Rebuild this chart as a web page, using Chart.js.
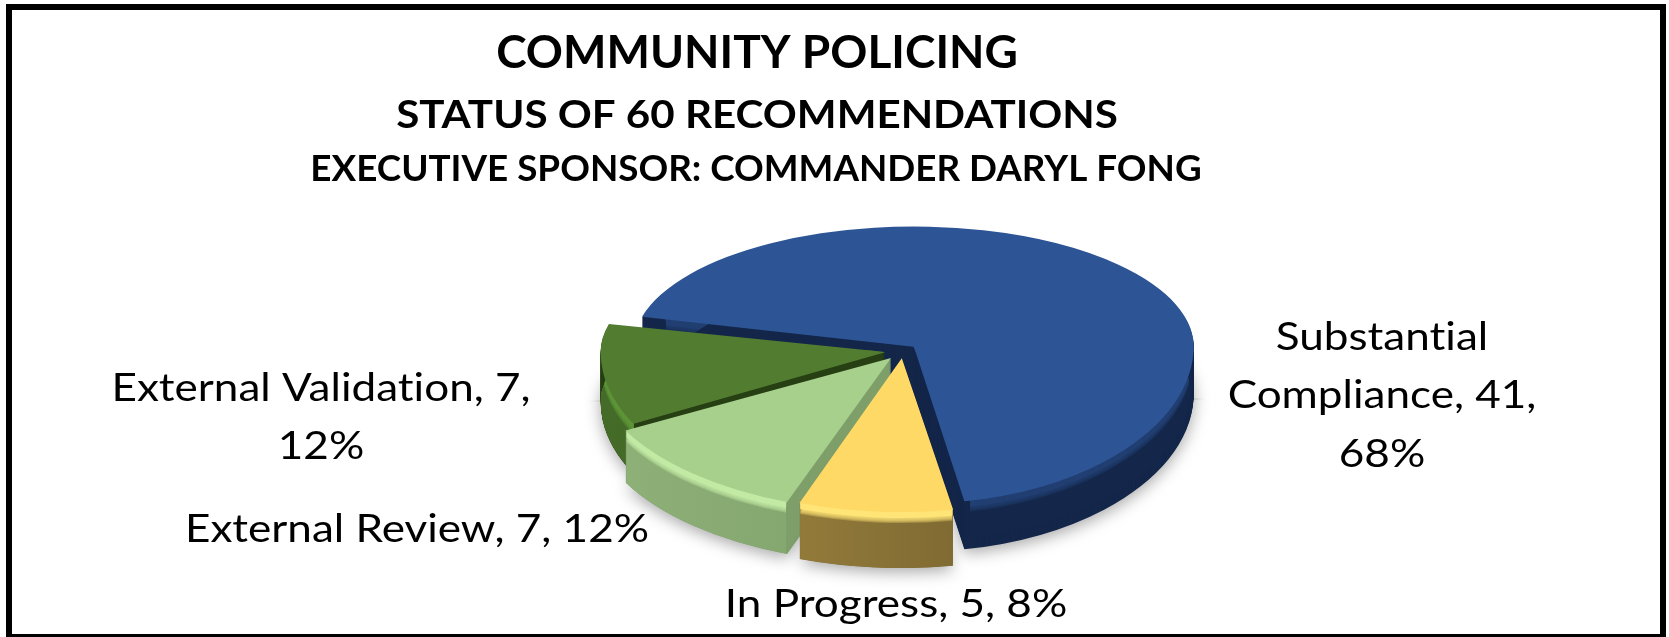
<!DOCTYPE html>
<html>
<head>
<meta charset="utf-8">
<title>Community Policing</title>
<script src="https://cdn.jsdelivr.net/npm/chart.js@4"></script>
<style>
  html, body { margin: 0; padding: 0; background: #fff; }
  canvas { display: block; }
</style>
</head>
<body>
<canvas id="pie" width="1669" height="637"></canvas>
<script>
const titleLines = ['COMMUNITY POLICING', 'STATUS OF 60 RECOMMENDATIONS', 'EXECUTIVE SPONSOR: COMMANDER DARYL FONG'];
const categories = ['Substantial Compliance', 'In Progress', 'External Review', 'External Validation'];
const values = [41, 5, 7, 7];
const percents = [68, 8, 12, 12];

const topColors = ['#2d5596', '#ffd966', '#a8d08d', '#527d31'];
const innerColors = ['#14274a', '#7f6b31', '#7f9f6a', '#274014'];
const wallFrom = ['#14274a', '#a88d42', '#8fb279', '#456b28'];
const wallTo = ['#14274a', '#7f6a32', '#7c9d68', '#3f6224'];
const bevelColors = ['#223f72', '#ffe477', '#c2eaa4', '#5d9438'];
const offsets = [60, 53, 69, 72];

// back to front
const drawOrder = [0, 3, 2, 1];
const depths = [48, 56, 52, 50];
const bevelDepth = 6;

// fake perspective: the back half is squashed more than the front half,
// front slices come out a little wider than the big back slice
const pivotY = 351;
const backScale = 0.41;
const frontScale = 0.54;
const widthScale = [0.955, 1.06, 1.06, 1.0];

const labelLayout = [
  { x: 1382, y: 337, wrap: ['Substantial', 'Compliance, 41,', '68%'] },
  { x: 896, y: 604, wrap: null },
  { x: 417, y: 529, wrap: null },
  { x: 321, y: 388, wrap: ['External Validation, 7,', '12%'] }
];

function project(y, cy) {
  return pivotY + (y - cy) * (y < cy ? backScale : frontScale);
}

function drawArc(ctx, chart, arc, i, dy, color) {
  const saved = arc.options;
  arc.options = { ...saved, backgroundColor: color };
  [[backScale, 0, pivotY], [frontScale, pivotY, chart.height]].forEach(([k, top, bottom]) => {
    ctx.save();
    ctx.beginPath();
    ctx.rect(0, top + dy - 0.5, chart.width, bottom - top + 1);
    ctx.clip();
    ctx.translate(arc.x, pivotY + dy);
    ctx.scale(widthScale[i], k);
    ctx.translate(-arc.x, -arc.y);
    arc.draw(ctx);
    ctx.restore();
  });
  arc.options = saved;
}

// top face plus outer wall of one slice, in page coordinates
function outerShape(arc, i, depth) {
  const offset = arc.options.offset / 4;
  const span = arc.endAngle - arc.startAngle;
  const fix = 1 - Math.sin(Math.min(Math.PI, span));
  const mid = (arc.startAngle + arc.endAngle) / 2;
  const ox = arc.x + Math.cos(mid) * offset * (1 + fix);
  const oy = arc.y + Math.sin(mid) * offset * (1 + fix);
  const at = (r, a) => [
    arc.x + (ox + Math.cos(a) * r - arc.x) * widthScale[i],
    project(oy + Math.sin(a) * r, arc.y)
  ];
  const path = new Path2D();
  path.moveTo(...at(0, arc.startAngle));
  for (let n = 1; n <= 8; n++) path.lineTo(...at(arc.outerRadius * n / 8, arc.startAngle));
  for (let n = 0; n <= 60; n++) {
    const p = at(arc.outerRadius, arc.startAngle + span * n / 60);
    path.lineTo(p[0], p[1] + depth);
  }
  for (let n = 8; n >= 1; n--) path.lineTo(...at(arc.outerRadius * n / 8, arc.endAngle));
  path.closePath();
  return path;
}

const piePlugin = {
  id: 'pie3d',
  beforeDatasetDraw() {
    return false; // slices are drawn below, tilted
  },
  afterDatasetsDraw(chart) {
    const ctx = chart.ctx;
    const arcs = chart.getDatasetMeta(0).data;
    drawOrder.forEach(i => {
      const arc = arcs[i];
      const depth = depths[i];
      const grad = ctx.createLinearGradient(arc.x - arc.outerRadius, 0, arc.x + arc.outerRadius * 0.2, 0);
      grad.addColorStop(0, wallFrom[i]);
      grad.addColorStop(1, wallTo[i]);

      ctx.save();
      ctx.shadowColor = 'rgba(0,0,0,0.35)';
      ctx.shadowBlur = 16;
      ctx.shadowOffsetY = 4;
      drawArc(ctx, chart, arc, i, depth, innerColors[i]);
      ctx.restore();
      for (let dy = depth - 1; dy > 0; dy--) drawArc(ctx, chart, arc, i, dy, innerColors[i]);

      ctx.save();
      ctx.clip(outerShape(arc, i, depth));
      for (let dy = depth; dy > bevelDepth; dy--) drawArc(ctx, chart, arc, i, dy, grad);
      // soft edge under the rim
      ctx.globalAlpha = 0.3;
      for (let dy = bevelDepth + 5; dy > bevelDepth; dy--) drawArc(ctx, chart, arc, i, dy, bevelColors[i]);
      ctx.globalAlpha = 1;
      for (let dy = bevelDepth; dy > 0; dy--) drawArc(ctx, chart, arc, i, dy, bevelColors[i]);
      ctx.restore();

      drawArc(ctx, chart, arc, i, 0, topColors[i]);
    });
  }
};

// the reference text is stretched sideways
function wideText(ctx, text, x, y, stretch) {
  ctx.save();
  ctx.translate(x, y);
  ctx.scale(stretch, 1);
  ctx.fillText(text, 0, 0);
  ctx.restore();
}

const textPlugin = {
  id: 'texts',
  afterDraw(chart) {
    const ctx = chart.ctx;
    ctx.save();
    // frame
    ctx.fillStyle = '#000';
    ctx.fillRect(6, 4, 1660, 6);
    ctx.fillRect(6, 4, 6, 633);
    ctx.fillRect(1660, 4, 6, 633);
    ctx.fillRect(6, 634, 1660, 3);

    ctx.textAlign = 'center';
    ctx.textBaseline = 'middle';
    ctx.textRendering = 'optimizeSpeed';
    ctx.fillStyle = '#000';
    ctx.font = 'bold 46px Lato';
    wideText(ctx, titleLines[0], 757, 53, 1);
    ctx.font = 'bold 39px Lato';
    wideText(ctx, titleLines[1], 757, 115, 1.08);
    ctx.font = 'bold 37px Lato';
    wideText(ctx, titleLines[2], 756, 169, 0.995);

    ctx.font = '39px Lato';
    categories.forEach((name, i) => {
      const layout = labelLayout[i];
      const lines = layout.wrap || [`${name}, ${values[i]}, ${percents[i]}%`];
      lines.forEach((line, n) => wideText(ctx, line, layout.x, layout.y + n * 58.5, 1.13));
    });
    ctx.restore();
  }
};

new Chart(document.getElementById('pie'), {
  type: 'pie',
  data: {
    labels: categories,
    datasets: [{
      data: values,
      backgroundColor: topColors,
      borderWidth: 0,
      offset: offsets
    }]
  },
  options: {
    responsive: false,
    animation: false,
    rotation: -76,
    layout: { padding: { left: 137, right: 0, top: 4, bottom: 4 } },
    plugins: {
      legend: { display: false },
      title: { display: false },
      tooltip: { enabled: false }
    }
  },
  plugins: [piePlugin, textPlugin]
});
</script>
</body>
</html>
